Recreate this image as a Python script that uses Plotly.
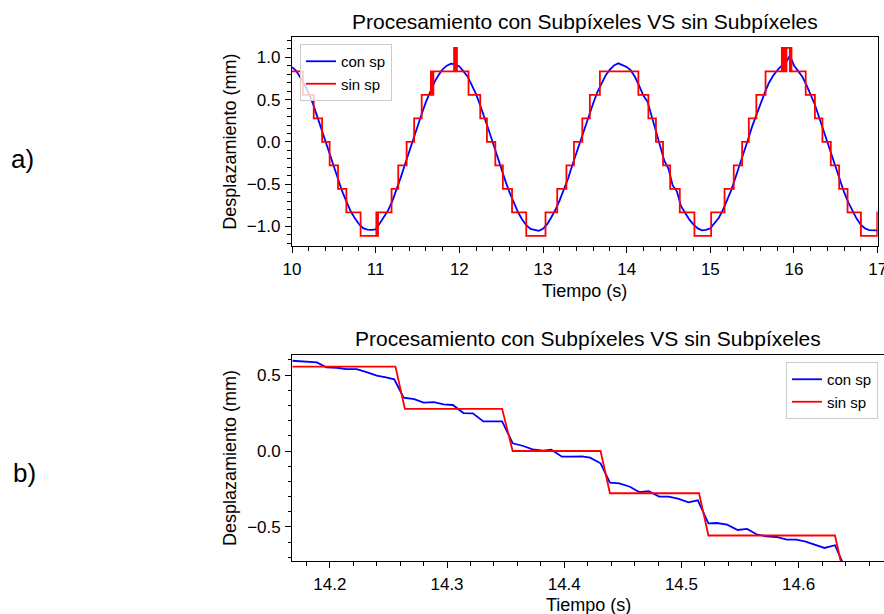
import plotly.graph_objects as go

# ---------------------------------------------------------------- data
# a) full record, 10 s .. 17 s, sub-pixel trace sampled every 0.05 s
blue_top_t0 = 10.0
blue_top_dt = 0.05
blue_top_y = [
    0.885, 0.842, 0.761, 0.680, 0.574, 0.452, 0.305, 0.158, 0.004, -0.150,
    -0.302, -0.447, -0.586, -0.705, -0.818, -0.902, -0.972, -1.021, -1.038, -1.042,
    -1.035, -0.962, -0.890, -0.808, -0.698, -0.571, -0.420, -0.268, -0.112, 0.036,
    0.188, 0.331, 0.470, 0.592, 0.702, 0.788, 0.858, 0.902, 0.925, 0.921,
    0.893, 0.835, 0.772, 0.668, 0.566, 0.431, 0.296, 0.143, -0.008, -0.163,
    -0.312, -0.461, -0.597, -0.712, -0.829, -0.918, -0.985, -1.030, -1.045, -1.052,
    -1.028, -0.973, -0.892, -0.800, -0.688, -0.561, -0.433, -0.276, -0.131, 0.031,
    0.176, 0.331, 0.458, 0.590, 0.690, 0.790, 0.856, 0.905, 0.930, 0.912,
    0.886, 0.846, 0.768, 0.664, 0.548, 0.475, 0.305, 0.130, -0.037, -0.222,
    -0.318, -0.515, -0.585, -0.760, -0.842, -0.920, -0.978, -1.024, -1.046, -1.040,
    -1.022, -0.965, -0.902, -0.806, -0.690, -0.570, -0.424, -0.283, -0.121, 0.025,
    0.184, 0.322, 0.468, 0.580, 0.698, 0.782, 0.848, 0.900, 0.935, 1.020,
    0.905, 0.838, 0.770, 0.672, 0.560, 0.440, 0.292, 0.153, -0.005, -0.155,
    -0.306, -0.452, -0.598, -0.718, -0.820, -0.910, -0.983, -1.025, -1.044, -1.050,
    -1.047,
]
blue_top_t = [round(blue_top_t0 + blue_top_dt * i, 3) for i in range(len(blue_top_y))]

# whole-pixel trace: instants where the quantised level changes, and new level
red_top_t = [
    10.000, 10.130, 10.260, 10.360, 10.450, 10.550, 10.650, 10.820,
    11.008, 11.013, 11.020, 11.024, 11.028,
    11.190, 11.270, 11.370, 11.460, 11.550,
    11.660, 11.668, 11.675, 11.683, 11.690,
    11.937, 11.943, 11.948, 11.956, 11.962, 11.972,
    12.110, 12.250, 12.330, 12.430, 12.520, 12.630, 12.800,
    13.030, 13.170, 13.280, 13.370, 13.470, 13.560, 13.680,
    14.140, 14.260, 14.350, 14.435, 14.520, 14.635, 14.810,
    15.010, 15.170, 15.280, 15.380, 15.460, 15.550, 15.660,
    15.855, 15.865, 15.870, 15.885, 15.890, 15.905, 15.910, 15.950, 15.955, 15.970,
    16.140, 16.250, 16.340, 16.440, 16.540, 16.640, 16.800, 16.995, 17.020,
]
red_top_y = [
    0.834, 0.556, 0.278, 0.000, -0.278, -0.556, -0.834, -1.112,
    -0.834, -1.112, -0.834, -1.112, -0.834,
    -0.556, -0.278, 0.000, 0.278, 0.556,
    0.834, 0.556, 0.834, 0.556, 0.834,
    1.112, 0.834, 1.112, 0.834, 1.112, 0.834,
    0.556, 0.278, 0.000, -0.278, -0.556, -0.834, -1.112,
    -0.834, -0.556, -0.278, 0.000, 0.278, 0.556, 0.834,
    0.556, 0.278, 0.000, -0.278, -0.556, -0.834, -1.112,
    -0.834, -0.556, -0.278, 0.000, 0.278, 0.556, 0.834,
    1.112, 0.834, 1.112, 0.834, 1.112, 0.834, 1.112, 0.834, 1.112, 0.834,
    0.556, 0.278, 0.000, -0.278, -0.556, -0.834, -1.112, -0.834, -0.834,
]

# b) detail 14.17 s .. 14.67 s at full frame rate
blue_bot_t = [
    14.168, 14.180, 14.189, 14.197, 14.206, 14.214, 14.223, 14.232, 14.240, 14.248,
    14.255, 14.263, 14.272, 14.280, 14.289, 14.297, 14.305, 14.314, 14.322, 14.331,
    14.339, 14.347, 14.356, 14.365, 14.373, 14.382, 14.389, 14.398, 14.406, 14.415,
    14.422, 14.431, 14.439, 14.447, 14.456, 14.464, 14.472, 14.481, 14.489, 14.497,
    14.506, 14.514, 14.523, 14.530, 14.539, 14.548, 14.556, 14.564, 14.572, 14.581,
    14.590, 14.598, 14.606, 14.615, 14.622, 14.631, 14.639, 14.648, 14.656, 14.665,
    14.673,
]
blue_bot_y = [
    0.594, 0.588, 0.583, 0.551, 0.548, 0.539, 0.539, 0.518, 0.496, 0.485,
    0.472, 0.351, 0.342, 0.318, 0.322, 0.307, 0.303, 0.250, 0.248, 0.195,
    0.197, 0.195, 0.051, 0.033, 0.011, 0.002, 0.009, -0.037, -0.037, -0.035,
    -0.044, -0.081, -0.208, -0.213, -0.235, -0.270, -0.265, -0.300, -0.300, -0.314,
    -0.338, -0.325, -0.476, -0.474, -0.485, -0.520, -0.513, -0.548, -0.561, -0.566,
    -0.583, -0.583, -0.597, -0.623, -0.638, -0.620, -0.760, -0.805, -0.835, -0.850,
    -0.860,
]
red_bot_t = [14.168, 14.256, 14.264, 14.347, 14.356, 14.431, 14.439,
             14.515, 14.523, 14.631, 14.639, 14.673]
red_bot_y = [0.556, 0.556, 0.278, 0.278, 0.000, 0.000, -0.278,
             -0.278, -0.556, -0.556, -0.834, -0.834]

title_text = "Procesamiento con Subpíxeles VS sin Subpíxeles"
x_label = "Tiempo (s)"
y_label = "Desplazamiento (mm)"
series_names = ["con sp", "sin sp"]
panel_tags = ["a)", "b)"]

# ---------------------------------------------------------------- layout helpers
W, H = 884, 614
FONT = "Liberation Sans, Arial, Helvetica, sans-serif"
BLUE, RED = "#0000ff", "#ff0000"


def fx(p):
    return p / W


def fy(p):
    return 1 - p / H


top_box = dict(l=292.0, r=877.7, t=37.3, b=246.0)
bot_box = dict(l=292.3, r=884.0, t=355.0, b=561.0)

fig = go.Figure()

fig.add_trace(go.Scatter(x=blue_top_t, y=blue_top_y, mode="lines", name=series_names[0],
                         line=dict(color=BLUE, width=1.8), xaxis="x", yaxis="y",
                         legend="legend"))
fig.add_trace(go.Scatter(x=red_top_t, y=red_top_y, mode="lines", name=series_names[1],
                         line=dict(color=RED, width=1.8, shape="hv"), xaxis="x", yaxis="y",
                         legend="legend"))
fig.add_trace(go.Scatter(x=blue_bot_t, y=blue_bot_y, mode="lines", name=series_names[0],
                         line=dict(color=BLUE, width=1.8), xaxis="x2", yaxis="y2",
                         legend="legend2"))
fig.add_trace(go.Scatter(x=red_bot_t, y=red_bot_y, mode="lines", name=series_names[1],
                         line=dict(color=RED, width=1.8), xaxis="x2", yaxis="y2",
                         legend="legend2"))

axis_common = dict(
    showgrid=False, zeroline=False, showline=True, linecolor="black", linewidth=1.4,
    ticks="outside", ticklen=6, tickwidth=1.3, tickcolor="black",
    tickfont=dict(family=FONT, size=17, color="black"),
    automargin=False, ticklabelstandoff=1, ticklabeloverflow="allow",
)

fig.update_layout(
    width=W, height=H,
    margin=dict(l=0, r=0, t=0, b=0),
    paper_bgcolor="white", plot_bgcolor="white",
    font=dict(family=FONT, color="black"),
    xaxis=dict(axis_common, domain=[fx(top_box["l"]), fx(top_box["r"])], anchor="y",
               range=[10, 17.0005], dtick=1, mirror=True,
               minor=dict(dtick=0.2, ticklen=3.5, tickwidth=1.1, ticks="outside", tickcolor="black")),
    yaxis=dict(axis_common, domain=[fy(top_box["b"]), fy(top_box["t"])], anchor="x",
               range=[-1.232, 1.238], dtick=0.5, tickformat=".1f", mirror=True,
               minor=dict(dtick=0.1, ticklen=3.5, tickwidth=1.1, ticks="outside", tickcolor="black")),
    xaxis2=dict(axis_common, domain=[fx(bot_box["l"]), fx(bot_box["r"])], anchor="y2",
                range=[14.168, 14.6728], dtick=0.1, tick0=14.0, tickformat=".1f", mirror=True,
                minor=dict(dtick=0.02, tick0=14.0, ticklen=3.5, tickwidth=1.1, ticks="outside",
                           tickcolor="black")),
    yaxis2=dict(axis_common, domain=[fy(bot_box["b"]), fy(bot_box["t"])], anchor="x2",
                range=[-0.724, 0.632], dtick=0.5, tickformat=".1f", mirror=False,
                minor=dict(dtick=0.1, ticklen=3.5, tickwidth=1.1, ticks="outside", tickcolor="black")),
    legend=dict(x=fx(300), y=fy(44), xanchor="left", yanchor="top",
                bgcolor="rgba(255,255,255,0.8)", bordercolor="#cccccc", borderwidth=1,
                font=dict(family=FONT, size=15, color="black"), tracegroupgap=0,
                itemwidth=30),
    legend2=dict(x=fx(878), y=fy(362), xanchor="right", yanchor="top",
                 bgcolor="rgba(255,255,255,0.8)", bordercolor="#cccccc", borderwidth=1,
                 font=dict(family=FONT, size=15, color="black"), tracegroupgap=0,
                 itemwidth=30),
    showlegend=True,
)

ann = []
# panel titles
for cx, cy in [((top_box["l"] + top_box["r"]) / 2, 21),
               ((bot_box["l"] + bot_box["r"]) / 2, 338)]:
    ann.append(dict(text=title_text, x=fx(cx), y=fy(cy), xref="paper", yref="paper",
                    xanchor="center", yanchor="middle", showarrow=False,
                    font=dict(family=FONT, size=21, color="black")))
# x-axis labels
for cx, cy in [((top_box["l"] + top_box["r"]) / 2, 291),
               ((bot_box["l"] + bot_box["r"]) / 2, 605)]:
    ann.append(dict(text=x_label, x=fx(cx), y=fy(cy), xref="paper", yref="paper",
                    xanchor="center", yanchor="middle", showarrow=False,
                    font=dict(family=FONT, size=18, color="black")))
# y-axis labels
for cy in [(top_box["t"] + top_box["b"]) / 2, (bot_box["t"] + bot_box["b"]) / 2]:
    ann.append(dict(text=y_label, x=fx(230), y=fy(cy), xref="paper", yref="paper",
                    xanchor="center", yanchor="middle", textangle=-90, showarrow=False,
                    font=dict(family=FONT, size=18, color="black")))
# panel tags
for tag, cx, cy in [(panel_tags[0], 22, 159), (panel_tags[1], 24, 473)]:
    ann.append(dict(text=tag, x=fx(cx), y=fy(cy), xref="paper", yref="paper",
                    xanchor="center", yanchor="middle", showarrow=False,
                    font=dict(family=FONT, size=26, color="black")))
fig.update_layout(annotations=ann)

fig.write_html("out.html")
